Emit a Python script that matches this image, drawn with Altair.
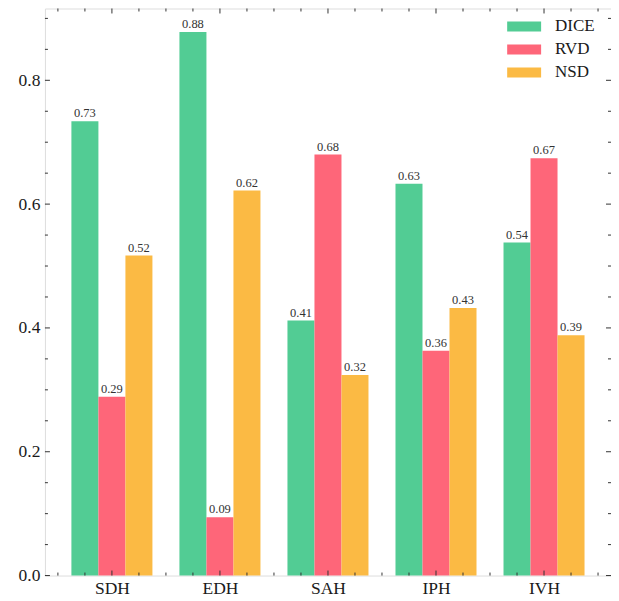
import json
import altair as alt
import pandas as pd

categories = ["SDH", "EDH", "SAH", "IPH", "IVH"]
series = ["DICE", "RVD", "NSD"]
dice = [0.734, 0.878, 0.412, 0.633, 0.538]
rvd = [0.289, 0.094, 0.680, 0.363, 0.674]
nsd = [0.517, 0.622, 0.324, 0.432, 0.388]
colors = ["#52CC94", "#FE6679", "#FBBA44"]

y_major = [0.0, 0.2, 0.4, 0.6, 0.8]
y_minor = [0.05, 0.1, 0.15, 0.25, 0.3, 0.35, 0.45, 0.5, 0.55, 0.65, 0.7, 0.75, 0.85, 0.9]
x_major = [0, 1, 2, 3, 4]
x_minor = [-0.5, -0.25, 0.25, 0.5, 0.75, 1.25, 1.5, 1.75, 2.25, 2.5, 2.75,
           3.25, 3.5, 3.75, 4.25, 4.5]

FONT = "Liberation Serif"
W, H = 567, 568
FRAME = "#333333"
TXT = "#1a1a1a"

vals = {"DICE": dice, "RVD": rvd, "NSD": nsd}
rows = []
for ci, cat in enumerate(categories):
    for si, s in enumerate(series):
        rows.append({"cat": cat, "idx": ci, "series": s, "sidx": si, "value": vals[s][ci]})
df = pd.DataFrame(rows)

xscale = alt.Scale(domain=[-0.62, 4.62], nice=False, zero=False)
yscale = alt.Scale(domain=[0, 0.916], nice=False, zero=True)

xaxis = alt.Axis(values=x_major, labelExpr=json.dumps(categories) + "[datum.value]",
                 title=None, grid=False, ticks=False, domain=False,
                 labelFont=FONT, labelFontSize=17.5, labelColor=TXT,
                 labelPadding=4, labelFlush=False)
yaxis = alt.Axis(values=y_major, format=".1f", title=None, grid=False, ticks=False,
                 domain=False, labelFont=FONT, labelFontSize=17.5, labelColor=TXT,
                 labelPadding=5)

base = alt.Chart(df).transform_calculate(
    x0="datum.idx + (datum.sidx - 1) * 0.25 - 0.125",
    x1="datum.idx + (datum.sidx - 1) * 0.25 + 0.125",
    xc="datum.idx + (datum.sidx - 1) * 0.25",
)

bars = base.mark_bar().encode(
    x=alt.X("x0:Q", scale=xscale, axis=xaxis),
    x2="x1:Q",
    y=alt.Y("value:Q", scale=yscale, axis=yaxis),
    y2=alt.datum(0),
    color=alt.Color(
        "series:N",
        scale=alt.Scale(domain=series, range=colors),
        legend=alt.Legend(
            title=None, orient="none", legendX=470, legendY=8, padding=0,
            symbolType="M-1.7,-0.5H1.7V0.5H-1.7Z", symbolSize=400,
            symbolStrokeWidth=0, symbolOpacity=1,
            labelFont=FONT, labelFontSize=17, labelColor=TXT,
            labelOffset=21, rowPadding=5,
        ),
    ),
)

labels = base.mark_text(baseline="bottom", dy=-1, fontSize=12.5, font=FONT, color="#333").encode(
    x=alt.X("xc:Q", scale=xscale, axis=xaxis),
    y=alt.Y("value:Q", scale=yscale, axis=yaxis),
    text=alt.Text("value:Q", format=".2f"),
)


def yticks(values, length):
    d = pd.DataFrame({"v": values})
    left = alt.Chart(d).mark_rule(color=FRAME, strokeWidth=1).encode(
        y=alt.Y("v:Q", scale=yscale, axis=yaxis), x=alt.value(0), x2=alt.value(length))
    right = alt.Chart(d).mark_rule(color=FRAME, strokeWidth=1).encode(
        y=alt.Y("v:Q", scale=yscale, axis=yaxis), x=alt.value(W - length), x2=alt.value(W))
    return [left, right]


def xticks(values, length):
    d = pd.DataFrame({"v": values})
    bottom = alt.Chart(d).mark_rule(color=FRAME, strokeWidth=1).encode(
        x=alt.X("v:Q", scale=xscale, axis=xaxis), y=alt.value(H - length), y2=alt.value(H))
    top = alt.Chart(d).mark_rule(color=FRAME, strokeWidth=1).encode(
        x=alt.X("v:Q", scale=xscale, axis=xaxis), y=alt.value(0), y2=alt.value(length))
    return [bottom, top]


tick_layers = yticks(y_major, 5) + yticks(y_minor, 3) + xticks(x_major, 5) + xticks(x_minor, 3)

chart = alt.layer(bars, labels, *tick_layers).properties(
    width=W, height=H,
    autosize=alt.AutoSizeParams(type="none"),
    padding={"left": 37, "top": 0, "right": 0, "bottom": 25},
).configure_view(
    stroke=FRAME, strokeWidth=1.3
).configure_axis(
    labelFont=FONT, labelFontSize=17.5, labelColor=TXT
).configure_legend(
    labelFont=FONT
).configure_text(font=FONT).configure(background="white", font=FONT)

chart.save("out.html", embed_options={"renderer": "svg", "actions": False})
